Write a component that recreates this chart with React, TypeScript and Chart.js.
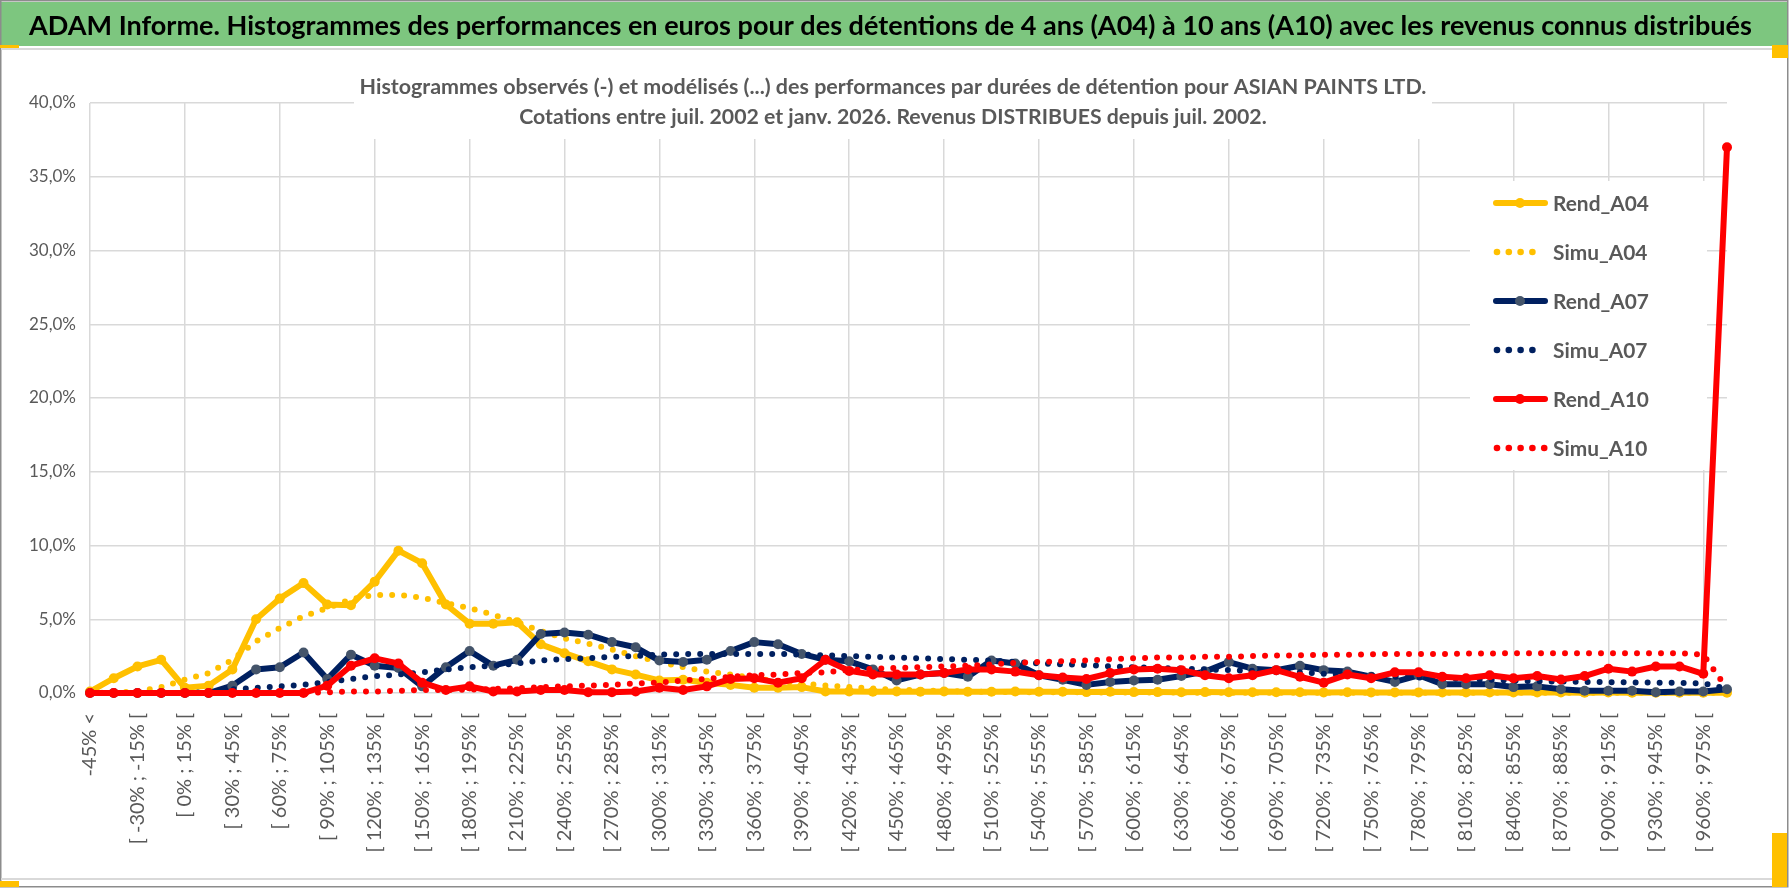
import { useEffect, useRef } from 'react';
import { Chart, registerables } from 'chart.js';

Chart.register(...registerables);

const W = 1790;
const H = 888;
const FONT = 'Lato, "Open Sans", "Noto Sans", sans-serif';

const mainTitle =
  'ADAM Informe. Histogrammes des performances en euros pour des détentions de 4 ans (A04) à 10 ans (A10) avec les revenus connus distribués';
const subTitle1 =
  'Histogrammes observés (-) et modélisés (...) des performances par durées de détention pour ASIAN PAINTS LTD.';
const subTitle2 =
  'Cotations entre juil. 2002 et janv. 2026. Revenus DISTRIBUES depuis juil. 2002.';

const categories = [
  '-45% <', '[ -45% ; -30% [', '[ -30% ; -15% [', '[ -15% ; 0% [', '[ 0% ; 15% [', '[ 15% ; 30% [',
  '[ 30% ; 45% [', '[ 45% ; 60% [', '[ 60% ; 75% [', '[ 75% ; 90% [', '[ 90% ; 105% [', '[ 105% ; 120% [',
  '[ 120% ; 135% [', '[ 135% ; 150% [', '[ 150% ; 165% [', '[ 165% ; 180% [', '[ 180% ; 195% [', '[ 195% ; 210% [',
  '[ 210% ; 225% [', '[ 225% ; 240% [', '[ 240% ; 255% [', '[ 255% ; 270% [', '[ 270% ; 285% [', '[ 285% ; 300% [',
  '[ 300% ; 315% [', '[ 315% ; 330% [', '[ 330% ; 345% [', '[ 345% ; 360% [', '[ 360% ; 375% [', '[ 375% ; 390% [',
  '[ 390% ; 405% [', '[ 405% ; 420% [', '[ 420% ; 435% [', '[ 435% ; 450% [', '[ 450% ; 465% [', '[ 465% ; 480% [',
  '[ 480% ; 495% [', '[ 495% ; 510% [', '[ 510% ; 525% [', '[ 525% ; 540% [', '[ 540% ; 555% [', '[ 555% ; 570% [',
  '[ 570% ; 585% [', '[ 585% ; 600% [', '[ 600% ; 615% [', '[ 615% ; 630% [', '[ 630% ; 645% [', '[ 645% ; 660% [',
  '[ 660% ; 675% [', '[ 675% ; 690% [', '[ 690% ; 705% [', '[ 705% ; 720% [', '[ 720% ; 735% [', '[ 735% ; 750% [',
  '[ 750% ; 765% [', '[ 765% ; 780% [', '[ 780% ; 795% [', '[ 795% ; 810% [', '[ 810% ; 825% [', '[ 825% ; 840% [',
  '[ 840% ; 855% [', '[ 855% ; 870% [', '[ 870% ; 885% [', '[ 885% ; 900% [', '[ 900% ; 915% [', '[ 915% ; 930% [',
  '[ 930% ; 945% [', '[ 945% ; 960% [', '[ 960% ; 975% [', '> 975%',
];

const yTicks = [0, 5, 10, 15, 20, 25, 30, 35, 40];

const rendA04 = [
  0.1, 1.0, 1.8, 2.25, 0.35, 0.5, 1.6, 5.0, 6.4, 7.45,
  6.0, 5.95, 7.55, 9.65, 8.8, 6.0, 4.7, 4.7, 4.8, 3.3,
  2.7, 2.15, 1.6, 1.25, 0.85, 0.9, 0.7, 0.55, 0.35, 0.35,
  0.4, 0.1, 0.1, 0.08, 0.1, 0.08, 0.1, 0.08, 0.08, 0.1,
  0.08, 0.08, 0.06, 0.08, 0.06, 0.06, 0.05, 0.06, 0.05, 0.05,
  0.05, 0.05, 0.04, 0.05, 0.04, 0.04, 0.04, 0.03, 0.04, 0.03,
  0.03, 0.03, 0.03, 0.02, 0.03, 0.02, 0.02, 0.02, 0.02, 0.02,
];
const simuA04 = [
  0, 0.02, 0.1, 0.4, 0.9, 1.35, 2.25, 3.5, 4.4, 5.2,
  5.75, 6.35, 6.65, 6.65, 6.45, 6.1, 5.75, 5.3, 4.8, 4.2,
  3.7, 3.35, 2.95, 2.5, 2.1, 1.75, 1.45, 1.25, 1.0, 0.8,
  0.65, 0.5, 0.4, 0.3, 0.22, 0.18, 0.14, 0.1, 0.08, 0.06,
  0.05, 0.05, 0.04, 0.04, 0.03, 0.03, 0.03, 0.02, 0.02, 0.02,
  0.02, 0.02, 0.01, 0.01, 0.01, 0.01, 0.01, 0.01, 0.01, 0.01,
  0.01, 0.01, 0.01, 0.01, 0.01, 0.01, 0.01, 0.01, 0.01, 0.01,
];
const rendA07 = [
  0, 0, 0, 0, 0, 0, 0.5, 1.6, 1.75, 2.75,
  0.95, 2.6, 1.85, 1.7, 0.45, 1.75, 2.85, 1.85, 2.25, 4.0,
  4.1, 3.95, 3.45, 3.1, 2.2, 2.1, 2.25, 2.85, 3.45, 3.3,
  2.65, 2.25, 2.15, 1.6, 0.85, 1.25, 1.35, 1.1, 2.2, 2.0,
  1.2, 0.9, 0.55, 0.75, 0.85, 0.9, 1.15, 1.45, 2.1, 1.65,
  1.55, 1.85, 1.55, 1.45, 1.1, 0.75, 1.2, 0.6, 0.6, 0.6,
  0.4, 0.45, 0.25, 0.15, 0.15, 0.15, 0.05, 0.1, 0.1, 0.25,
];
const simuA07 = [
  0, 0, 0, 0, 0, 0.05, 0.25, 0.35, 0.45, 0.55,
  0.75, 0.95, 1.15, 1.25, 1.4, 1.6, 1.75, 1.85, 2.0, 2.2,
  2.3, 2.35, 2.45, 2.5, 2.6, 2.65, 2.65, 2.65, 2.65, 2.65,
  2.6, 2.55, 2.5, 2.45, 2.4, 2.35, 2.3, 2.25, 2.2, 2.1,
  2.0, 1.95, 1.9, 1.8, 1.75, 1.7, 1.65, 1.6, 1.55, 1.5,
  1.45, 1.4, 1.3, 1.25, 1.2, 1.1, 1.05, 1.0, 0.95, 0.9,
  0.85, 0.8, 0.78, 0.75, 0.73, 0.72, 0.7, 0.68, 0.65, 0.3,
];
const rendA10 = [
  0, 0, 0, 0, 0, 0, 0, 0, 0, 0,
  0.5, 1.85, 2.35, 2.0, 0.7, 0.2, 0.45, 0.1, 0.1, 0.2,
  0.2, 0.05, 0.05, 0.1, 0.35, 0.2, 0.45, 0.95, 1.0, 0.7,
  1.0, 2.25, 1.5, 1.25, 1.25, 1.25, 1.35, 1.6, 1.6, 1.45,
  1.2, 1.05, 0.95, 1.35, 1.6, 1.65, 1.55, 1.2, 1.0, 1.2,
  1.55, 1.1, 0.7, 1.25, 1.0, 1.4, 1.4, 1.1, 1.0, 1.2,
  1.0, 1.15, 0.92, 1.15, 1.65, 1.45, 1.8, 1.8, 1.3, 37.0,
];
const simuA10 = [
  0, 0, 0, 0, 0, 0, 0, 0, 0, 0,
  0.05, 0.1, 0.1, 0.15, 0.2, 0.2, 0.22, 0.27, 0.32, 0.4,
  0.45, 0.5, 0.55, 0.65, 0.7, 0.85, 0.95, 1.1, 1.2, 1.25,
  1.35, 1.4, 1.55, 1.65, 1.7, 1.75, 1.8, 1.85, 1.95, 2.05,
  2.1, 2.15, 2.2, 2.3, 2.35, 2.4, 2.4, 2.45, 2.45, 2.5,
  2.55, 2.55, 2.6, 2.6, 2.62, 2.65, 2.65, 2.65, 2.67, 2.67,
  2.7, 2.7, 2.7, 2.7, 2.7, 2.7, 2.7, 2.7, 2.6, 0.3,
];

const YELLOW = '#FFC000';
const NAVY = '#002060';
const NAVY_MARK = '#44546A';
const RED = '#FF0000';
const GREY_TEXT = '#595959';
const GRID = '#D9D9D9';

type Series = {
  label: string;
  data: number[];
  color: string;
  mark: string;
  dotted: boolean;
  legendDots: number;
};

const series: Series[] = [
  { label: 'Rend_A04', data: rendA04, color: YELLOW, mark: YELLOW, dotted: false, legendDots: 0 },
  { label: 'Simu_A04', data: simuA04, color: YELLOW, mark: YELLOW, dotted: true, legendDots: 4 },
  { label: 'Rend_A07', data: rendA07, color: NAVY, mark: NAVY_MARK, dotted: false, legendDots: 0 },
  { label: 'Simu_A07', data: simuA07, color: NAVY, mark: NAVY, dotted: true, legendDots: 4 },
  { label: 'Rend_A10', data: rendA10, color: RED, mark: RED, dotted: false, legendDots: 0 },
  { label: 'Simu_A10', data: simuA10, color: RED, mark: RED, dotted: true, legendDots: 5 },
];

const PLOT_LEFT = 90;
const PLOT_TOP = 103;
const PLOT_RIGHT = 1727;
const PLOT_BOTTOM = 693;

function fitFont(ctx: CanvasRenderingContext2D, text: string, weight: string, base: number, target: number) {
  ctx.font = `${weight} ${base}px ${FONT}`;
  const w = ctx.measureText(text).width;
  const size = base * (target / w);
  return `${weight} ${size.toFixed(2)}px ${FONT}`;
}

const decorPlugin = {
  id: 'decor',
  beforeDraw(chart: Chart) {
    const ctx = chart.ctx;
    ctx.save();
    ctx.fillStyle = '#FFFFFF';
    ctx.fillRect(0, 0, W, H);
    // green title band
    ctx.fillStyle = '#7DC67F';
    ctx.fillRect(1, 2, 1787, 44);
    // outer border
    ctx.strokeStyle = '#8C8C8C';
    ctx.lineWidth = 1.5;
    ctx.strokeRect(0.75, 0.75, 1787, 886);
    // inner frame lines
    ctx.strokeStyle = '#D9D9D9';
    ctx.lineWidth = 2;
    ctx.beginPath();
    ctx.moveTo(1, 49);
    ctx.lineTo(1787, 49);
    ctx.moveTo(1, 879);
    ctx.lineTo(1787, 879);
    ctx.stroke();
    // small selection marks
    ctx.fillStyle = YELLOW;
    ctx.fillRect(0, 45, 19, 3);
    ctx.fillRect(1772, 45, 16, 13);
    ctx.fillRect(0, 881, 19, 6);
    ctx.fillRect(1772, 833, 15, 54);
    // main title
    ctx.fillStyle = '#000000';
    ctx.font = fitFont(ctx, mainTitle, 'bold', 26, 1723);
    ctx.textBaseline = 'middle';
    ctx.textAlign = 'left';
    ctx.fillText(mainTitle, 29, 26);
    ctx.restore();
  },
  beforeDatasetsDraw(chart: Chart) {
    const ctx = chart.ctx;
    ctx.save();
    ctx.fillStyle = '#FFFFFF';
    ctx.fillRect(354, 56, 1432 - 354, 139 - 56);
    ctx.fillStyle = GREY_TEXT;
    ctx.textAlign = 'center';
    ctx.textBaseline = 'middle';
    ctx.font = fitFont(ctx, subTitle1, 'bold', 20, 1067);
    ctx.fillText(subTitle1, 893, 87);
    ctx.font = fitFont(ctx, subTitle2, 'bold', 20, 748);
    ctx.fillText(subTitle2, 893, 117);
    ctx.restore();
  },
  afterDatasetsDraw(chart: Chart) {
    const ctx = chart.ctx;
    ctx.save();
    ctx.fillStyle = '#FFFFFF';
    ctx.fillRect(1470, 181, 1707 - 1470, 470 - 181);
    const font = fitFont(ctx, 'Rend_A04', 'bold', 22, 96);
    series.forEach((s, i) => {
      const y = 203 + i * 49;
      if (!s.dotted) {
        ctx.strokeStyle = s.color;
        ctx.lineWidth = 6;
        ctx.lineCap = 'round';
        ctx.beginPath();
        ctx.moveTo(1496, y);
        ctx.lineTo(1545, y);
        ctx.stroke();
        ctx.fillStyle = s.mark;
        ctx.beginPath();
        ctx.arc(1520, y, 5, 0, Math.PI * 2);
        ctx.fill();
      } else {
        ctx.fillStyle = s.color;
        for (let k = 0; k < s.legendDots; k++) {
          ctx.beginPath();
          ctx.arc(1497 + k * 11.8, y, 3.3, 0, Math.PI * 2);
          ctx.fill();
        }
      }
      ctx.fillStyle = GREY_TEXT;
      ctx.font = font;
      ctx.textAlign = 'left';
      ctx.textBaseline = 'middle';
      ctx.fillText(s.label, 1553, y + 1);
    });
    ctx.restore();
  },
};

export default function App() {
  const ref = useRef<HTMLCanvasElement | null>(null);

  useEffect(() => {
    if (!ref.current) return;
    const n = series.length;
    const chart = new Chart(ref.current, {
      type: 'line',
      data: {
        labels: categories,
        datasets: series.map((s, i) => ({
          label: s.label,
          data: s.data,
          borderColor: s.color,
          backgroundColor: s.color,
          borderWidth: 6,
          borderDash: s.dotted ? [0, 12] : [],
          borderCapStyle: 'round' as const,
          borderJoinStyle: 'round' as const,
          pointRadius: s.dotted ? 0 : 5,
          pointHoverRadius: s.dotted ? 0 : 5,
          pointBackgroundColor: s.mark,
          pointBorderWidth: 0,
          tension: 0,
          fill: false,
          clip: false as const,
          order: n - i,
        })),
      },
      options: {
        responsive: false,
        animation: false,
        devicePixelRatio: 1,
        events: [],
        layout: {
          padding: { left: 0, top: PLOT_TOP, right: W - PLOT_RIGHT, bottom: 0 },
        },
        plugins: {
          legend: { display: false },
          title: { display: false },
          tooltip: { enabled: false },
        },
        scales: {
          x: {
            type: 'category',
            offset: false,
            border: { display: false },
            grid: {
              drawTicks: false,
              lineWidth: 1.5,
              color: (c: any) => (c.index % 4 === 0 ? GRID : 'rgba(0,0,0,0)'),
            },
            ticks: {
              autoSkip: false,
              minRotation: 90,
              maxRotation: 90,
              padding: 20,
              color: GREY_TEXT,
              font: { family: FONT, size: 20 },
              callback: (_v: any, idx: number) => (idx % 2 === 0 ? categories[idx] : ''),
            },
            afterFit: (scale: any) => {
              scale.height = H - PLOT_BOTTOM;
            },
          },
          y: {
            min: yTicks[0],
            max: yTicks[yTicks.length - 1],
            border: { display: false },
            grid: { drawTicks: false, lineWidth: 1.5, color: GRID },
            afterBuildTicks: (scale: any) => {
              scale.ticks = yTicks.map((v) => ({ value: v }));
            },
            ticks: {
              padding: 14,
              color: GREY_TEXT,
              font: { family: FONT, size: 17 },
              callback: (v: any) => Number(v).toFixed(1).replace('.', ',') + '%',
            },
            afterFit: (scale: any) => {
              scale.width = PLOT_LEFT;
            },
          },
        },
      },
      plugins: [decorPlugin],
    } as any);
    return () => chart.destroy();
  }, []);

  return (
    <div style={{ position: 'absolute', left: 0, top: 0, width: W, height: H, background: '#fff' }}>
      <canvas ref={ref} width={W} height={H} style={{ width: W, height: H, display: 'block' }} />
    </div>
  );
}
